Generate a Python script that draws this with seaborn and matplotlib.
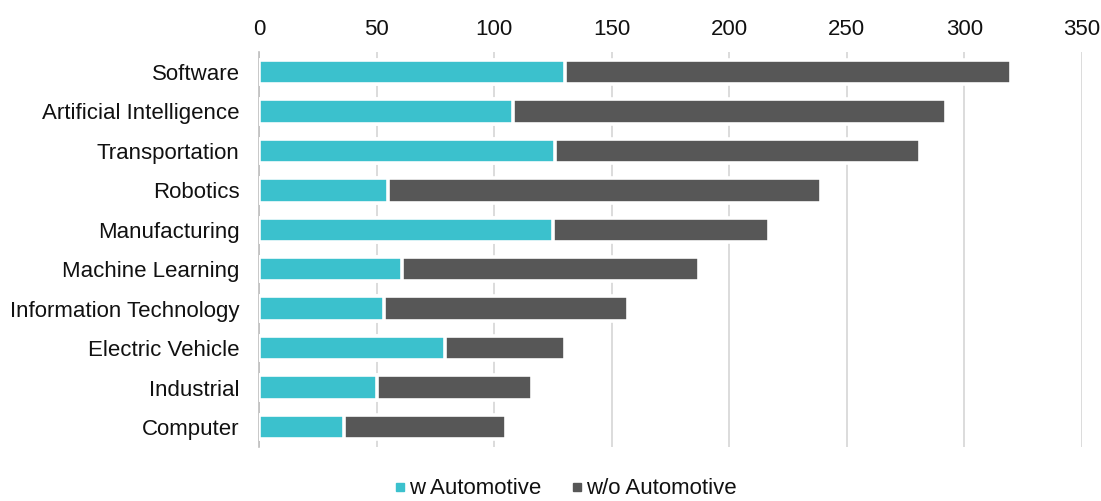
import numpy as np
import pandas as pd
import matplotlib
matplotlib.use("Agg")
import matplotlib.pyplot as plt
from matplotlib.lines import Line2D
import seaborn as sns

categories = ["Software", "Artificial Intelligence", "Transportation", "Robotics",
              "Manufacturing", "Machine Learning", "Information Technology",
              "Electric Vehicle", "Industrial", "Computer"]
w_auto = [130, 108, 126, 55, 125, 61, 53, 79, 50, 36]
wo_auto = [190, 184, 155, 184, 92, 126, 104, 51, 66, 69]
x_ticks = [0, 50, 100, 150, 200, 250, 300, 350]
series_names = ["w Automotive", "w/o Automotive"]

cyan = "#3BC1CD"
dark = "#575757"

sns.set_theme(style="white")
plt.rcParams["font.family"] = ["Liberation Sans", "DejaVu Sans"]

df = pd.DataFrame({"cat": categories, "w": w_auto,
                   "total": np.array(w_auto) + np.array(wo_auto)})

fs = 16.0
fig = plt.figure(figsize=(11.01, 5.01), dpi=100)
ax = fig.add_axes([259 / 1101, 1 - 446.7 / 501, (1082 - 259) / 1101, (446.7 - 52.3) / 501])

sns.barplot(data=df, y="cat", x="total", color=dark, orient="h", width=0.62,
            edgecolor="white", linewidth=2.6, saturation=1, ax=ax, zorder=3)
sns.barplot(data=df, y="cat", x="w", color=cyan, orient="h", width=0.62,
            edgecolor="white", linewidth=2.6, saturation=1, ax=ax, zorder=4)

ax.set_xlim(0, 350)
ax.set_ylim(len(categories) - 0.5, -0.5)
ax.set_xticks(x_ticks)
ax.xaxis.tick_top()
ax.set_xlabel("")
ax.set_ylabel("")
ax.grid(axis="x", color="#d9d9d9", linewidth=1.3, zorder=0)
ax.grid(axis="y", visible=False)
ax.set_axisbelow(True)
for s in ["top", "right", "bottom"]:
    ax.spines[s].set_visible(False)
ax.spines["left"].set_color("#bfbfbf")
ax.spines["left"].set_linewidth(1.2)

ax.set_yticks(np.arange(-0.5, len(categories), 1), minor=True)
ax.tick_params(axis="y", which="major", length=0, pad=14, labelsize=fs, labelcolor="#111111")
ax.tick_params(axis="y", which="minor", length=4, width=1.2, color="#bfbfbf", direction="out")
ax.tick_params(axis="x", which="major", length=0, pad=9, labelsize=fs, labelcolor="#111111")

handles = [Line2D([0], [0], marker="s", linestyle="", markersize=5.5, color=cyan),
           Line2D([0], [0], marker="s", linestyle="", markersize=5.5, color=dark)]
fig.legend(handles, series_names, loc="center", bbox_to_anchor=(0.511, 1 - 489 / 501),
           ncol=2, frameon=False, fontsize=fs, handletextpad=-0.1, columnspacing=1.1,
           handlelength=1.0, labelcolor="#111111", borderpad=0)

fig.savefig("out.png", dpi=100)
